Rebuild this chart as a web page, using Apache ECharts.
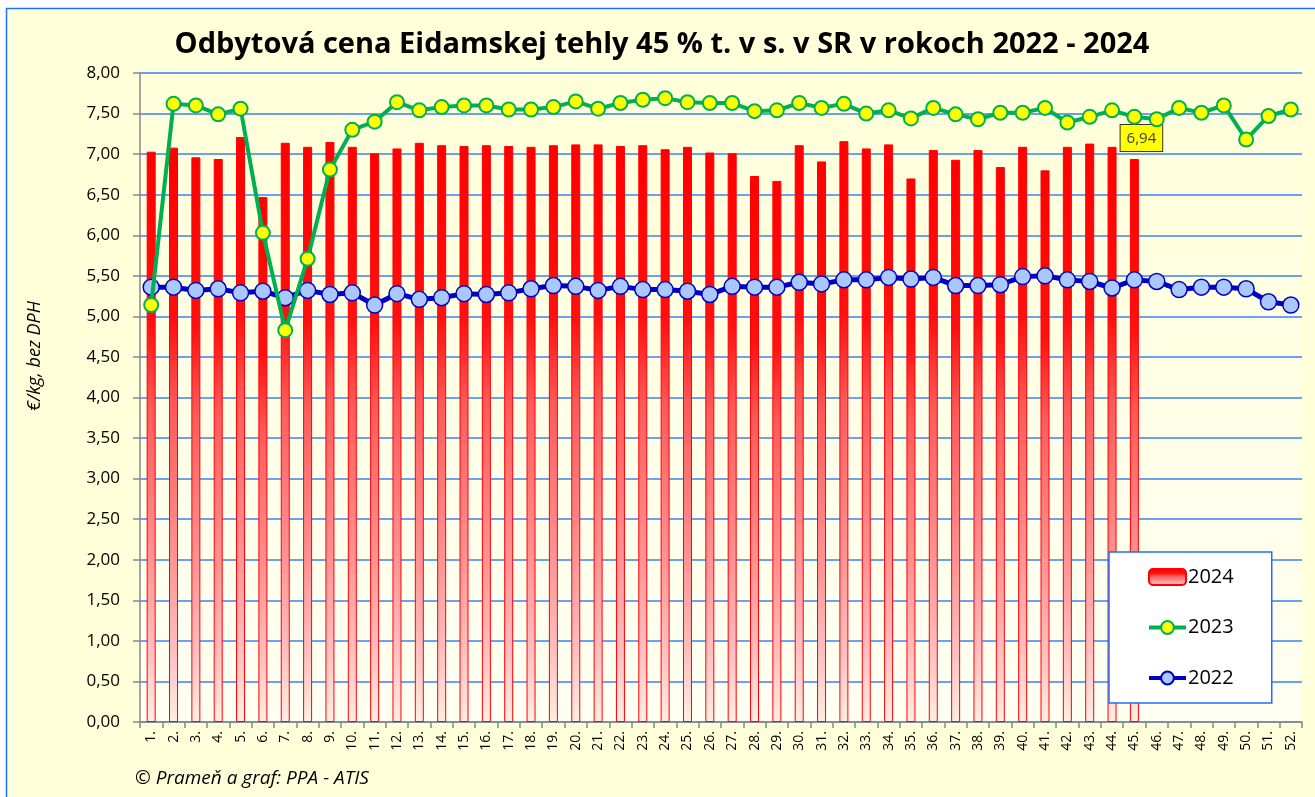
<!DOCTYPE html>
<html>
<head>
<meta charset="utf-8">
<script src="https://cdn.jsdelivr.net/npm/echarts@6/dist/echarts.min.js"></script>
<style>
html,body{margin:0;padding:0;background:#ffffff;}
#chart{width:1315px;height:797px;}
</style>
</head>
<body>
<div id="chart"></div>
<script>
var weeks = [];
for (var i = 1; i <= 52; i++) { weeks.push(i + '.'); }

var yTicks = ['0,00','0,50','1,00','1,50','2,00','2,50','3,00','3,50','4,00','4,50','5,00','5,50','6,00','6,50','7,00','7,50','8,00'];

var data2024 = [7.03,7.08,6.96,6.94,7.21,6.47,7.14,7.09,7.15,7.09,7.01,7.07,7.14,7.11,7.10,7.11,7.10,7.09,7.11,7.12,7.12,7.10,7.11,7.06,7.09,7.02,7.01,6.73,6.67,7.11,6.91,7.16,7.07,7.12,6.70,7.05,6.93,7.05,6.84,7.09,6.80,7.09,7.13,7.09,6.94];

var data2023 = [5.14,7.62,7.60,7.49,7.56,6.03,4.83,5.71,6.81,7.30,7.40,7.64,7.54,7.58,7.60,7.60,7.55,7.55,7.58,7.65,7.56,7.63,7.67,7.69,7.64,7.63,7.63,7.53,7.54,7.63,7.57,7.62,7.50,7.54,7.44,7.57,7.49,7.43,7.51,7.51,7.57,7.39,7.46,7.54,7.46,7.43,7.57,7.51,7.60,7.18,7.47,7.55];

var data2022 = [5.36,5.36,5.32,5.34,5.29,5.31,5.23,5.32,5.27,5.29,5.14,5.28,5.21,5.23,5.28,5.27,5.29,5.34,5.38,5.37,5.32,5.37,5.33,5.33,5.31,5.27,5.37,5.36,5.36,5.42,5.40,5.45,5.45,5.48,5.46,5.48,5.38,5.38,5.39,5.49,5.50,5.45,5.43,5.35,5.45,5.43,5.33,5.36,5.36,5.34,5.18,5.14];

var labelIndex2024 = 44;

function fmt(v){ return v.toFixed(2).replace('.', ','); }

var barData = data2024.map(function(v, i){
  if (i === labelIndex2024) {
    return {
      value: v,
      label: {
        show: true, position: 'top', offset: [7, -3],
        formatter: function(p){ return fmt(p.value); },
        backgroundColor: '#FFFF00', borderColor: '#333333', borderWidth: 1,
        padding: [6, 6, 5, 6], color: '#404040', fontSize: 15,
        fontFamily: 'Open Sans'
      }
    };
  }
  return v;
});

var chart = echarts.init(document.getElementById('chart'), null, {renderer: 'canvas'});

var option = {
  backgroundColor: '#ffffff',
  animation: false,
  graphic: [
    {type: 'rect', z: -10, silent: true,
     shape: {x: 6.5, y: 8.5, width: 1330, height: 820},
     style: {fill: '#FFFFD9', stroke: '#1F6FFF', lineWidth: 1.5}},
    {type: 'text', x: 662, y: 45,
     style: {text: 'Odbytová cena Eidamskej tehly 45 % t. v s. v SR v rokoch 2022 - 2024',
             fontFamily: 'Open Sans', fontWeight: 'bold', fontSize: 29, fill: '#000000',
             align: 'center', verticalAlign: 'middle'}},
    {type: 'text', x: 35, y: 356, rotation: Math.PI/2,
     style: {text: '€/kg, bez DPH', fontFamily: 'Open Sans', fontStyle: 'italic', fontSize: 18, fill: '#000000',
             align: 'center', verticalAlign: 'middle'}},
    {type: 'text', x: 135, y: 779,
     style: {text: '© Prameň a graf: PPA - ATIS', fontFamily: 'Open Sans', fontStyle: 'italic', fontSize: 19, fill: '#000000',
             verticalAlign: 'middle'}}
  ],
  grid: {left: 140, right: 13, top: 73, bottom: 75, show: true, borderWidth: 0,
    backgroundColor: {type: 'linear', x: 0, y: 0, x2: 0, y2: 1,
      colorStops: [{offset: 0, color: '#FFFFDA'}, {offset: 1, color: '#FFFFF3'}]}},
  legend: {
    orient: 'vertical', left: 1109, top: 552,
    padding: [15, 38, 15, 38], itemGap: 30.5, itemWidth: 37, itemHeight: 16,
    backgroundColor: '#FFFFFF', borderColor: '#1F6FFF', borderWidth: 1.5,
    textStyle: {fontSize: 20, fontFamily: 'Open Sans', color: '#000000', padding: [0,0,0,-3]},
    data: [
      {name: '2024'},
      {name: '2023', lineStyle: {width: 4, color: '#00B050'}},
      {name: '2022', lineStyle: {width: 4, color: '#0000C8'}}
    ]
  },
  xAxis: {
    type: 'category', data: weeks, boundaryGap: true,
    axisLine: {lineStyle: {color: '#888888', width: 1.5}},
    axisTick: {show: true, length: 6, lineStyle: {color: '#888888', width: 1.5}},
    axisLabel: {rotate: 90, interval: 0, fontSize: 14, fontFamily: 'Open Sans', color: '#000000', margin: 9}
  },
  yAxis: {
    type: 'value', min: 0, max: 8, interval: 0.5,
    axisLine: {show: true, lineStyle: {color: '#888888', width: 1.5}},
    axisTick: {show: true, inside: false, length: 7, lineStyle: {color: '#888888', width: 1.5}},
    axisLabel: {fontSize: 17, fontFamily: 'Open Sans', color: '#000000', margin: 20,
      formatter: function(v){ return yTicks[Math.round(v*2)]; }},
    splitLine: {lineStyle: {color: '#3A80F8', width: 1.5}}
  },
  series: [
    {
      name: '2024', type: 'bar', data: barData, barWidth: 9, z: 2,
      itemStyle: {
        borderColor: '#FF0000', borderWidth: 1,
        color: {type: 'linear', x: 0, y: 0, x2: 0, y2: 1, colorStops: [
          {offset: 0, color: '#FF0000'},
          {offset: 0.3, color: '#FF1010'},
          {offset: 0.45, color: '#FF5A5A'},
          {offset: 0.72, color: '#FF9494'},
          {offset: 0.88, color: '#FFC0C0'},
          {offset: 1, color: '#FFEEE2'}
        ]}
      }
    },
    {
      name: '2023', type: 'line', data: data2023, z: 4,
      symbol: 'circle', symbolSize: 14,
      lineStyle: {color: '#00B050', width: 4},
      itemStyle: {color: '#FFFF00', borderColor: '#00B050', borderWidth: 2}
    },
    {
      name: '2022', type: 'line', data: data2022, z: 3,
      symbol: 'circle', symbolSize: 16,
      lineStyle: {color: '#0000C8', width: 5},
      itemStyle: {color: '#A8C8FF', borderColor: '#0000C0', borderWidth: 1.5}
    }
  ]
};
chart.setOption(option);
</script>
</body>
</html>
